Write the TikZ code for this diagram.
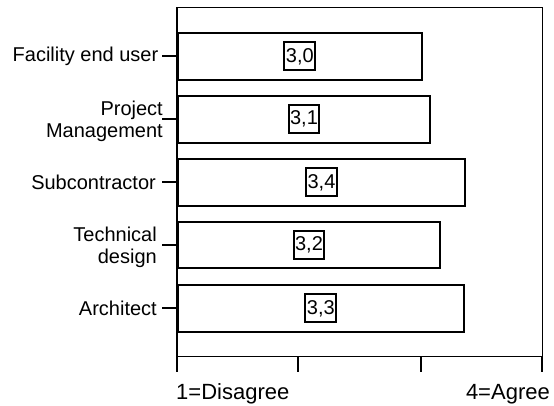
\documentclass[tikz,border=0pt]{standalone}
\usepackage{fontspec}
\setmainfont{Liberation Sans}
\begin{document}
\begin{tikzpicture}[x=1pt,y=-1pt,
  every node/.style={font=\fontsize{20}{21.7}\selectfont},
  bar/.style={draw, line width=2pt, anchor=west, inner sep=0pt, minimum height=46.7pt},
  val/.style={draw, line width=2pt, inner xsep=1.5pt, inner ysep=0pt, minimum height=28.3pt},
  cat/.style={anchor=east, align=right, inner sep=0pt},
  axlab/.style={font=\fontsize{22}{24}\selectfont, inner sep=0pt},
  tick/.style={line width=2pt},
  frame/.style={line width=1.3pt}]
\useasboundingbox (0,0) rectangle (554,405);
% frame
\draw[frame] (177,7.3) rectangle (542.3,356.7);
% bars
\node[bar, minimum width=243.7pt] (b1) at (177,56.3) {};
\node[bar, minimum width=252pt]   (b2) at (177,119.2) {};
\node[bar, minimum width=287pt]   (b3) at (177,182.3) {};
\node[bar, minimum width=262pt]   (b4) at (177,245) {};
\node[bar, minimum width=285.7pt] (b5) at (177,308.3) {};
% values
\node[val] (v1) at (b1.center) {3,0};
\node[val] (v2) at (b2.center) {3,1};
\node[val] (v3) at (b3.center) {3,4};
\node[val] (v4) at (b4.center) {3,2};
\node[val] (v5) at (b5.center) {3,3};
% category ticks
\coordinate (t1) at (162,56.3);
\coordinate (t2) at (162,119.2);
\coordinate (t3) at (162,182.3);
\coordinate (t4) at (162,245);
\coordinate (t5) at (162,308.3);
\draw[tick] (t1) -- (b1.west);
\draw[tick] (t2) -- (b2.west);
\draw[tick] (t3) -- (b3.west);
\draw[tick] (t4) -- (b4.west);
\draw[tick] (t5) -- (b5.west);
% category labels
\node[cat] (c1) at (158.5,56.3) {Facility end user};
\node[cat] (c2) at (163,121) {Project\\Management};
\node[cat] (c3) at (156,182.3) {Subcontractor};
\node[cat] (c4) at (157,247.5) {Technical\\design};
\node[cat] (c5) at (157,308.3) {Architect};
% axis ticks
\coordinate (a1) at (177,356.7);
\coordinate (a2) at (298.3,356.7);
\coordinate (a3) at (420.7,356.7);
\coordinate (a4) at (542.3,356.7);
\coordinate (a1e) at (177,371.7);
\coordinate (a2e) at (298.3,371.7);
\coordinate (a3e) at (420.7,371.7);
\coordinate (a4e) at (542.3,371.7);
\draw[tick] (a1) -- (a1e);
\draw[tick] (a2) -- (a2e);
\draw[tick] (a3) -- (a3e);
\draw[tick] (a4) -- (a4e);
% axis labels
\node[axlab, anchor=base west] (l1) at (176,399) {1=Disagree};
\node[axlab, anchor=base east] (l4) at (550,399) {4=Agree};
\end{tikzpicture}
\end{document}
